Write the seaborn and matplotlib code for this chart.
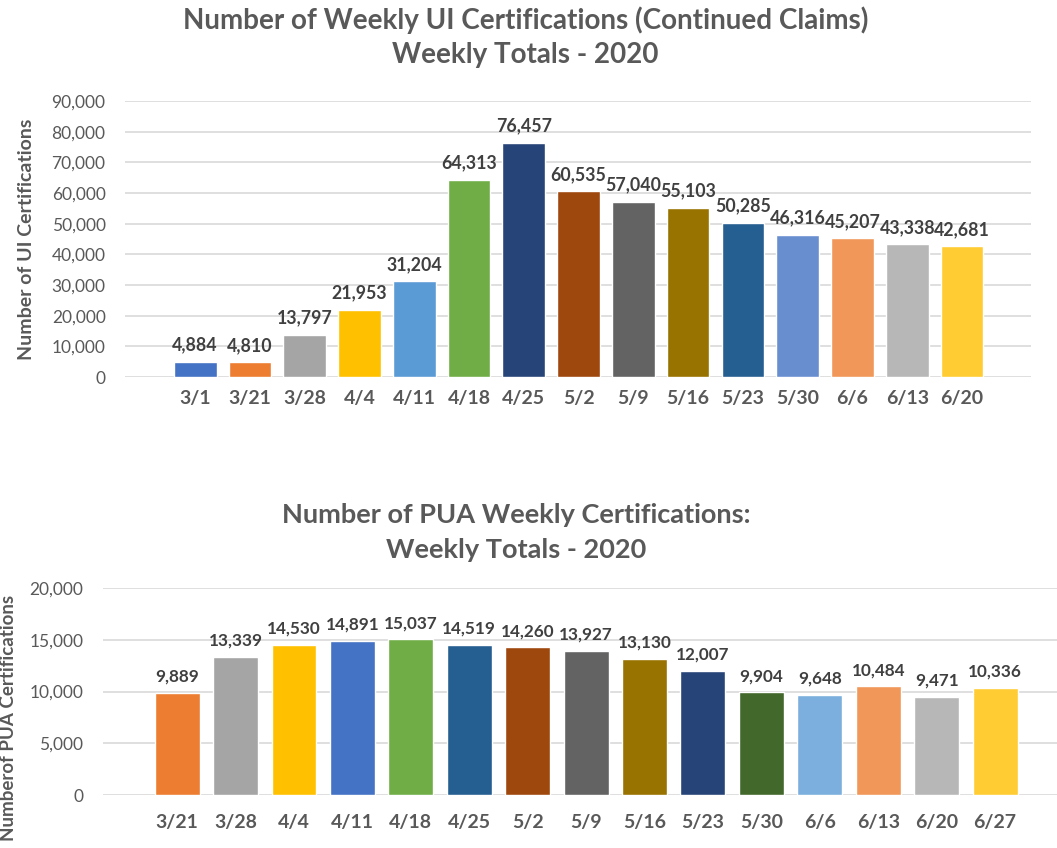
import pandas as pd
import matplotlib.pyplot as plt
import seaborn as sns

# --- data ---
ui_weeks = ["3/1", "3/21", "3/28", "4/4", "4/11", "4/18", "4/25", "5/2",
            "5/9", "5/16", "5/23", "5/30", "6/6", "6/13", "6/20"]
ui_counts = [4884, 4810, 13797, 21953, 31204, 64313, 76457, 60535,
             57040, 55103, 50285, 46316, 45207, 43338, 42681]
ui_colors = ["#4472C4", "#ED7D31", "#A5A5A5", "#FFC000", "#5B9BD5", "#70AD47",
             "#264478", "#9E480E", "#636363", "#997300", "#255E91", "#698ED0",
             "#F1975A", "#B7B7B7", "#FFCD33"]

pua_weeks = ["3/21", "3/28", "4/4", "4/11", "4/18", "4/25", "5/2", "5/9",
             "5/16", "5/23", "5/30", "6/6", "6/13", "6/20", "6/27"]
pua_counts = [9889, 13339, 14530, 14891, 15037, 14519, 14260, 13927,
              13130, 12007, 9904, 9648, 10484, 9471, 10336]
pua_colors = ["#ED7D31", "#A5A5A5", "#FFC000", "#4472C4", "#70AD47", "#255E91",
              "#9E480E", "#636363", "#997300", "#264478", "#43682B", "#7CAFDD",
              "#F1975A", "#B7B7B7", "#FFCD33"]

sns.set_style("white")
plt.rcParams["font.family"] = ["Lato", "DejaVu Sans"]

TITLE_C = "#595959"
TICK_C = "#595959"
LABEL_C = "#404040"
GRID_C = "#D9D9D9"

fig = plt.figure(figsize=(10.57, 8.48), dpi=100)
ax1 = fig.add_axes([0.1183, 0.5554, 0.8571, 0.3255])
ax2 = fig.add_axes([0.0974, 0.0625, 0.9026, 0.2441])


def draw(ax, weeks, counts, colors, width, ymax, step, xlim, label_size, xtick_size):
    df = pd.DataFrame({"week": weeks, "count": counts})
    sns.barplot(data=df, x="week", y="count", hue="week", palette=colors,
                width=width, legend=False, ax=ax, saturation=1)
    ax.set_ylim(0, ymax)
    ax.set_xlim(*xlim)
    ax.set_yticks(range(0, ymax + 1, step))
    ax.set_yticklabels([f"{v:,}" for v in range(0, ymax + 1, step)])
    ax.grid(axis="y", color=GRID_C, linewidth=1.2)
    ax.set_axisbelow(True)
    for s in ax.spines.values():
        s.set_visible(False)
    ax.tick_params(axis="both", length=0, colors=TICK_C, labelsize=12.5)
    ax.tick_params(axis="x", labelsize=xtick_size)
    ax.tick_params(axis="y", pad=14)
    for t in ax.get_xticklabels():
        t.set_fontweight("bold")
    for i, v in enumerate(counts):
        ax.annotate(f"{v:,}", (i, v), xytext=(0, 6), textcoords="offset points",
                    ha="center", va="bottom", fontsize=label_size,
                    fontweight="bold", color=LABEL_C)
    ax.set_xlabel("")


draw(ax1, ui_weeks, ui_counts, ui_colors, 0.78, 90000, 10000, (-1.28, 15.26), 12.8, 14)
ax1.tick_params(axis="x", pad=9)
ax1.set_ylabel("Number of UI Certifications", fontsize=14, fontweight="bold",
               color=TICK_C)
ax1.yaxis.set_label_coords(-0.099, 0.5)

draw(ax2, pua_weeks, pua_counts, pua_colors, 0.77, 20000, 5000, (-1.27, 15.06), 12.3, 14)
ax2.tick_params(axis="x", pad=14)
ax2.set_ylabel("Numberof PUA Certifications", fontsize=13.5, fontweight="bold",
               color=TICK_C)
ax2.yaxis.set_label_coords(-0.09, 0.37)

# titles
fig.text(0.497, 1 - 20 / 848, "Number of Weekly UI Certifications (Continued Claims)",
         ha="center", va="center", fontsize=20, fontweight="bold", color=TITLE_C)
fig.text(0.497, 1 - 55 / 848, "Weekly Totals - 2020",
         ha="center", va="center", fontsize=20, fontweight="bold", color=TITLE_C)
fig.text(0.488, 1 - 515 / 848, "Number of PUA Weekly Certifications:",
         ha="center", va="center", fontsize=19.5, fontweight="bold", color=TITLE_C)
fig.text(0.488, 1 - 550 / 848, "Weekly Totals - 2020",
         ha="center", va="center", fontsize=19.5, fontweight="bold", color=TITLE_C)

fig.savefig("out.png", dpi=100)
